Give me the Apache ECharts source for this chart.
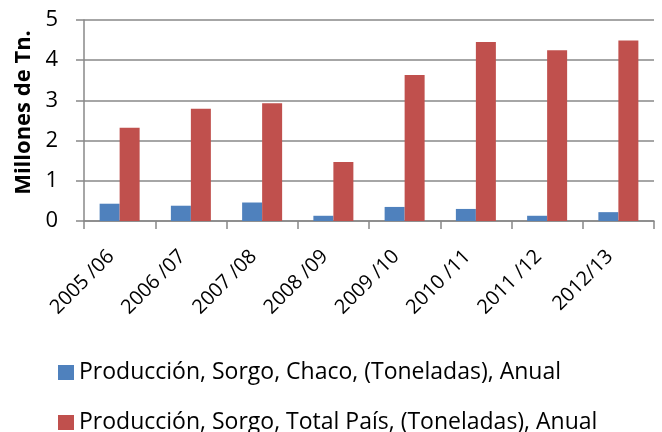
<!DOCTYPE html>
<html>
<head>
<meta charset="utf-8">
<script src="https://cdn.jsdelivr.net/npm/echarts@6/dist/echarts.min.js"></script>
<style>
html,body{margin:0;padding:0;background:#fff;}
#chart{width:662px;height:432px;}
</style>
</head>
<body>
<div id="chart"></div>
<script>
var categories = ['2005 /06','2006 /07','2007 /08','2008 /09','2009 /10','2010 /11','2011 /12','2012/13'];
var chaco = [0.43,0.38,0.46,0.13,0.35,0.30,0.13,0.22];
var totalPais = [2.32,2.79,2.93,1.47,3.63,4.45,4.25,4.49];
var seriesNames = ['Producción, Sorgo, Chaco, (Toneladas), Anual','Producción, Sorgo, Total País, (Toneladas), Anual'];
var yTicks = [0,1,2,3,4,5];

var font = '"Open Sans", "Noto Sans", sans-serif';
var chart = echarts.init(document.getElementById('chart'));
function legendAt(name, top){
    return {
        left:58,
        top:top,
        padding:0,
        itemWidth:16,
        itemHeight:15,
        icon:'rect',
        itemGap:0,
        textStyle:{fontSize:23,color:'#000',fontFamily:font},
        data:[name]
    };
}
var option = {
    animation:false,
    color:['#4F81BD','#C0504D'],
    textStyle:{fontFamily:font},
    grid:{left:84,right:8,top:20,bottom:211},
    legend:[legendAt(seriesNames[0],361),legendAt(seriesNames[1],411)],
    xAxis:{
        type:'category',
        data:categories,
        axisLine:{lineStyle:{color:'#888',width:1.5}},
        axisTick:{show:true,length:8,lineStyle:{color:'#888',width:1.5}},
        axisLabel:{
            rotate:45,
            interval:0,
            margin:24,
            fontSize:20,
            color:'#000',
            fontFamily:font,
            padding:[0,12,0,0]
        }
    },
    yAxis:{
        type:'value',
        min:0,max:5,interval:1,
        name:'Millones de Tn.',
        nameLocation:'middle',
        nameGap:47,
        nameTextStyle:{fontSize:22,fontWeight:'bold',color:'#000',fontFamily:font,padding:[0,0,0,16]},
        axisLine:{show:true,lineStyle:{color:'#888',width:1.5}},
        axisTick:{show:true,length:8,lineStyle:{color:'#888',width:1.5}},
        splitLine:{lineStyle:{color:'#888',width:1.5}},
        axisLabel:{
            fontSize:22,
            color:'#000',
            margin:26,
            fontFamily:font,
            formatter:function(v){return yTicks.indexOf(v)>=0?String(v):'';}
        }
    },
    series:[
        {name:seriesNames[0],type:'bar',data:chaco,barWidth:20,barGap:'0%'},
        {name:seriesNames[1],type:'bar',data:totalPais,barWidth:20,barGap:'0%'}
    ]
};
chart.setOption(option);
</script>
</body>
</html>
